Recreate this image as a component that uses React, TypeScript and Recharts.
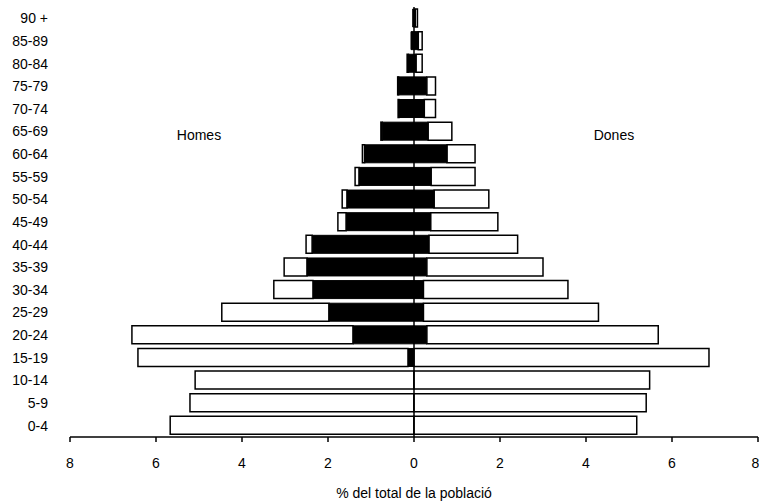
import {
  Bar,
  BarChart,
  ReferenceDot,
  ReferenceLine,
  XAxis,
  YAxis,
} from "recharts";

const AGES = ["90 +", "85-89", "80-84", "75-79", "70-74", "65-69", "60-64", "55-59", "50-54", "45-49", "40-44", "35-39", "30-34", "25-29", "20-24", "15-19", "10-14", "5-9", "0-4"];

// % of total population
const MEN_TOTAL = [0.03, 0.07, 0.16, 0.38, 0.37, 0.77, 1.2, 1.37, 1.67, 1.77, 2.51, 3.02, 3.26, 4.47, 6.56, 6.42, 5.09, 5.21, 5.67];
const MEN_DARK = [0.03, 0.07, 0.13, 0.36, 0.35, 0.74, 1.15, 1.28, 1.56, 1.58, 2.37, 2.49, 2.35, 1.98, 1.42, 0.14, 0, 0, 0];
const WOMEN_TOTAL = [0.08, 0.19, 0.19, 0.5, 0.5, 0.88, 1.42, 1.42, 1.74, 1.95, 2.41, 3.0, 3.58, 4.29, 5.68, 6.86, 5.48, 5.4, 5.18];
const WOMEN_DARK = [0.03, 0.1, 0.05, 0.3, 0.24, 0.33, 0.77, 0.4, 0.47, 0.39, 0.35, 0.3, 0.22, 0.22, 0.3, 0, 0, 0, 0];

const X_TICKS = [-8, -6, -4, -2, 0, 2, 4, 6, 8];

const DATA = AGES.map((age, i) => ({
  age,
  menDark: -MEN_DARK[i],
  menRest: -(MEN_TOTAL[i] - MEN_DARK[i]),
  womenDark: WOMEN_DARK[i],
  womenRest: WOMEN_TOTAL[i] - WOMEN_DARK[i],
}));

const FONT = "'Liberation Sans', Arial, sans-serif";
const INK = "#000";

export default function App() {
  return (
    <div style={{ position: "absolute", left: 0, top: 0, background: "#fff" }}>
      <BarChart
        width={759}
        height={501}
        data={DATA}
        layout="vertical"
        stackOffset="sign"
        barSize={18}
        margin={{ top: 7, right: 1, left: 0, bottom: 0 }}
        style={{ fontFamily: FONT }}
      >
        <XAxis
          type="number"
          domain={[-8, 8]}
          ticks={X_TICKS}
          tickFormatter={(v) => String(Math.abs(v))}
          height={64}
          axisLine={{ stroke: INK, strokeWidth: 1.5 }}
          tickLine={{ stroke: INK, strokeWidth: 1.5 }}
          tickSize={5}
          tickMargin={16}
          tick={{ fontSize: 14, fill: INK }}
          label={{ value: "% del total de la població", position: "insideBottom", offset: 3, fontSize: 14, fill: INK }}
        />
        <YAxis
          type="category"
          dataKey="age"
          width={70}
          axisLine={false}
          tickLine={false}
          tickSize={0}
          tickMargin={22}
          interval={0}
          tick={{ fontSize: 14, fill: INK }}
        />
        <Bar dataKey="menDark" stackId="p" fill={INK} stroke={INK} strokeWidth={1} isAnimationActive={false} />
        <Bar dataKey="menRest" stackId="p" fill="#fff" stroke={INK} strokeWidth={1.5} isAnimationActive={false} />
        <Bar dataKey="womenDark" stackId="p" fill={INK} stroke={INK} strokeWidth={1} isAnimationActive={false} />
        <Bar dataKey="womenRest" stackId="p" fill="#fff" stroke={INK} strokeWidth={1.5} isAnimationActive={false} />
        <ReferenceLine x={0} stroke={INK} strokeWidth={1.5} />
        <ReferenceDot
          x={-5}
          y="65-69"
          r={0}
          fill="none"
          stroke="none"
          label={{ value: "Homes", position: "center", dy: 4, fontSize: 14, fill: INK }}
        />
        <ReferenceDot
          x={4.65}
          y="65-69"
          r={0}
          fill="none"
          stroke="none"
          label={{ value: "Dones", position: "center", dy: 4, fontSize: 14, fill: INK }}
        />
      </BarChart>
    </div>
  );
}
